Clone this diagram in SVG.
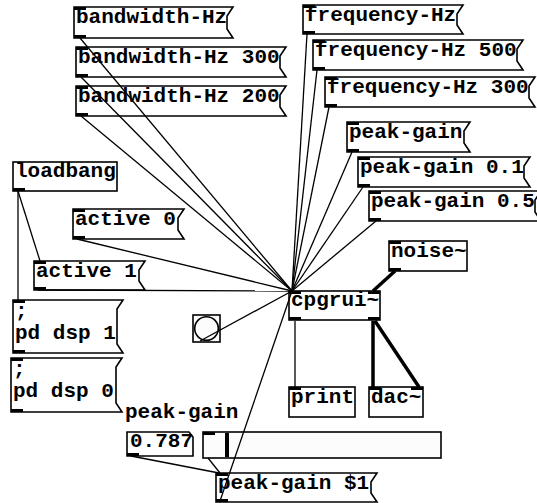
<svg xmlns="http://www.w3.org/2000/svg" width="537" height="503" viewBox="0 0 537 503">
<defs>
<style>
text{font-family:"Courier New","Liberation Mono",monospace;font-weight:bold;font-size:21px;fill:#000}
.box{fill:none;stroke:#000;stroke-width:1.6}
.gui{fill:#fcfcfc;stroke:#000;stroke-width:1.6}
.io{fill:#000}
.c{stroke:#000;stroke-width:1.3;fill:none}
.s{stroke:#000;stroke-width:3.5;fill:none}
</style>
</defs>
<rect width="537" height="503" fill="#fff"/>
<g id="msg-bandwidth">
<polygon class="box" points="74,7 233,7 227,16 227,29 233,38 74,38"/>
<rect class="io" x="74" y="7" width="12" height="3"/><rect class="io" x="74" y="35" width="12" height="3"/>
<text x="76" y="23">bandwidth-Hz</text>
</g>
<g id="msg-bandwidth-300">
<polygon class="box" points="76,47 286,47 280,56 280,68 286,77 76,77"/>
<rect class="io" x="76" y="47" width="12" height="3"/><rect class="io" x="76" y="74" width="12" height="3"/>
<text x="78" y="63">bandwidth-Hz 300</text>
</g>
<g id="msg-bandwidth-200">
<polygon class="box" points="76,86 286,86 280,95 280,107 286,116 76,116"/>
<rect class="io" x="76" y="86" width="12" height="3"/><rect class="io" x="76" y="113" width="12" height="3"/>
<text x="78" y="102">bandwidth-Hz 200</text>
</g>
<g id="msg-frequency">
<polygon class="box" points="303,5 463,5 457,14 457,25 463,34 303,34"/>
<rect class="io" x="303" y="5" width="12" height="3"/><rect class="io" x="303" y="31" width="12" height="3"/>
<text x="305" y="21">frequency-Hz</text>
</g>
<g id="msg-frequency-500">
<polygon class="box" points="313,40 523,40 517,49 517,61 523,70 313,70"/>
<rect class="io" x="313" y="40" width="12" height="3"/><rect class="io" x="313" y="67" width="12" height="3"/>
<text x="315" y="56">frequency-Hz 500</text>
</g>
<g id="msg-frequency-300">
<polygon class="box" points="325,77 535,77 529,86 529,98 535,107 325,107"/>
<rect class="io" x="325" y="77" width="12" height="3"/><rect class="io" x="325" y="104" width="12" height="3"/>
<text x="327" y="93">frequency-Hz 300</text>
</g>
<g id="msg-peak-gain">
<polygon class="box" points="347,122 470,122 464,131 464,143 470,152 347,152"/>
<rect class="io" x="347" y="122" width="12" height="3"/><rect class="io" x="347" y="149" width="12" height="3"/>
<text x="349" y="138">peak-gain</text>
</g>
<g id="msg-peak-gain-01">
<polygon class="box" points="358,157 530,157 524,166 524,178 530,187 358,187"/>
<rect class="io" x="358" y="157" width="12" height="3"/><rect class="io" x="358" y="184" width="12" height="3"/>
<text x="360" y="173">peak-gain 0.1</text>
</g>
<g id="msg-peak-gain-05">
<polygon class="box" points="369,191 541,191 535,200 535,212 541,221 369,221"/>
<rect class="io" x="369" y="191" width="12" height="3"/><rect class="io" x="369" y="218" width="12" height="3"/>
<text x="371" y="207">peak-gain 0.5</text>
</g>
<g id="obj-loadbang">
<rect class="box" x="13" y="162" width="104" height="29"/>
<rect class="io" x="13" y="188" width="12" height="3"/>
<text x="15" y="177">loadbang</text>
</g>
<g id="msg-active-0">
<polygon class="box" points="73,209 184,209 178,218 178,230 184,239 73,239"/>
<rect class="io" x="73" y="209" width="12" height="3"/><rect class="io" x="73" y="236" width="12" height="3"/>
<text x="75" y="225">active 0</text>
</g>
<g id="msg-active-1">
<polygon class="box" points="34,261 145,261 139,270 139,281 145,290 34,290"/>
<rect class="io" x="34" y="261" width="12" height="3"/><rect class="io" x="34" y="287" width="12" height="3"/>
<text x="36" y="277">active 1</text>
</g>
<g id="obj-noise">
<rect class="box" x="389" y="241" width="78" height="30"/>
<rect class="io" x="389" y="241" width="12" height="3"/><rect class="io" x="389" y="268" width="12" height="3"/>
<text x="391" y="257">noise~</text>
</g>
<g id="obj-cpgrui">
<rect class="box" x="289" y="291" width="91" height="29"/>
<rect class="io" x="289" y="291" width="12" height="3"/><rect class="io" x="368" y="291" width="12" height="3"/>
<rect class="io" x="289" y="317" width="12" height="3"/><rect class="io" x="368" y="317" width="12" height="3"/>
<text x="291" y="306">cpgrui~</text>
</g>
<g id="msg-dsp-1">
<polygon class="box" points="13,300 123,300 117,309 117,344 123,353 13,353"/>
<rect class="io" x="13" y="300" width="12" height="3"/><rect class="io" x="13" y="350" width="12" height="3"/>
<text x="15" y="317">;</text>
<text x="15" y="339">pd dsp 1</text>
</g>
<g id="msg-dsp-0">
<polygon class="box" points="11,358 122,358 116,367 116,403 122,412 11,412"/>
<rect class="io" x="11" y="358" width="12" height="3"/><rect class="io" x="11" y="409" width="12" height="3"/>
<text x="13" y="375">;</text>
<text x="13" y="397">pd dsp 0</text>
</g>
<g id="bang">
<rect class="gui" x="193" y="315" width="27" height="27"/>
<circle class="gui" cx="206.5" cy="328.5" r="11.8"/>
</g>
<g id="obj-print">
<rect class="box" x="289" y="387" width="66" height="30"/>
<rect class="io" x="289" y="387" width="12" height="3"/>
<text x="291" y="403">print</text>
</g>
<g id="obj-dac">
<rect class="box" x="369" y="387" width="54" height="30"/>
<rect class="io" x="369" y="387" width="12" height="3"/><rect class="io" x="411" y="387" width="12" height="3"/>
<text x="371" y="403">dac~</text>
</g>
<g id="label-peak-gain">
<text x="125" y="418">peak-gain</text>
</g>
<g id="numbox">
<polygon class="box" points="127,432 189,432 193,437 193,456 127,456"/>
<rect class="io" x="127" y="453" width="12" height="3"/>
<text x="130" y="447">0.787</text>
</g>
<g id="slider">
<rect class="gui" x="203" y="432" width="238" height="26"/>
<rect class="io" x="203" y="432" width="12" height="3"/>
<rect x="225" y="433" width="4" height="24" fill="#000"/>
</g>
<g id="msg-peak-gain-1">
<polygon class="box" points="216,473 377,473 371,482 371,493 377,502 216,502"/>
<rect class="io" x="216" y="473" width="12" height="3"/><rect class="io" x="216" y="499" width="12" height="3"/>
<text x="218" y="489">peak-gain $1</text>
</g>
<g id="connectors">
<line class="c" x1="80" y1="38" x2="292" y2="291"/>
<line class="c" x1="81" y1="77" x2="292" y2="291"/>
<line class="c" x1="81" y1="116" x2="292" y2="291"/>
<line class="c" x1="307" y1="34" x2="292" y2="291"/>
<line class="c" x1="317" y1="70" x2="292" y2="291"/>
<line class="c" x1="329" y1="107" x2="292" y2="291"/>
<line class="c" x1="352" y1="152" x2="292" y2="291"/>
<line class="c" x1="363" y1="187" x2="292" y2="291"/>
<line class="c" x1="376" y1="221" x2="292" y2="291"/>
<line class="c" x1="77" y1="239" x2="292" y2="291"/>
<line class="c" x1="38" y1="290" x2="292" y2="291"/>
<line class="c" x1="18" y1="191" x2="40" y2="261"/>
<line class="c" x1="18" y1="191" x2="18" y2="300"/>
<line class="c" x1="200" y1="341" x2="292" y2="291"/>
<line class="c" x1="220" y1="501" x2="292" y2="291"/>
<line class="c" x1="131" y1="456" x2="219" y2="473"/>
<line class="c" x1="208" y1="458" x2="220" y2="473"/>
<line class="c" x1="295" y1="321" x2="295" y2="387"/>
<line class="s" x1="373" y1="321" x2="373" y2="387"/>
<line class="s" x1="375" y1="321" x2="419" y2="387"/>
<line class="s" x1="395" y1="271" x2="373" y2="291"/>
</g>
</svg>
